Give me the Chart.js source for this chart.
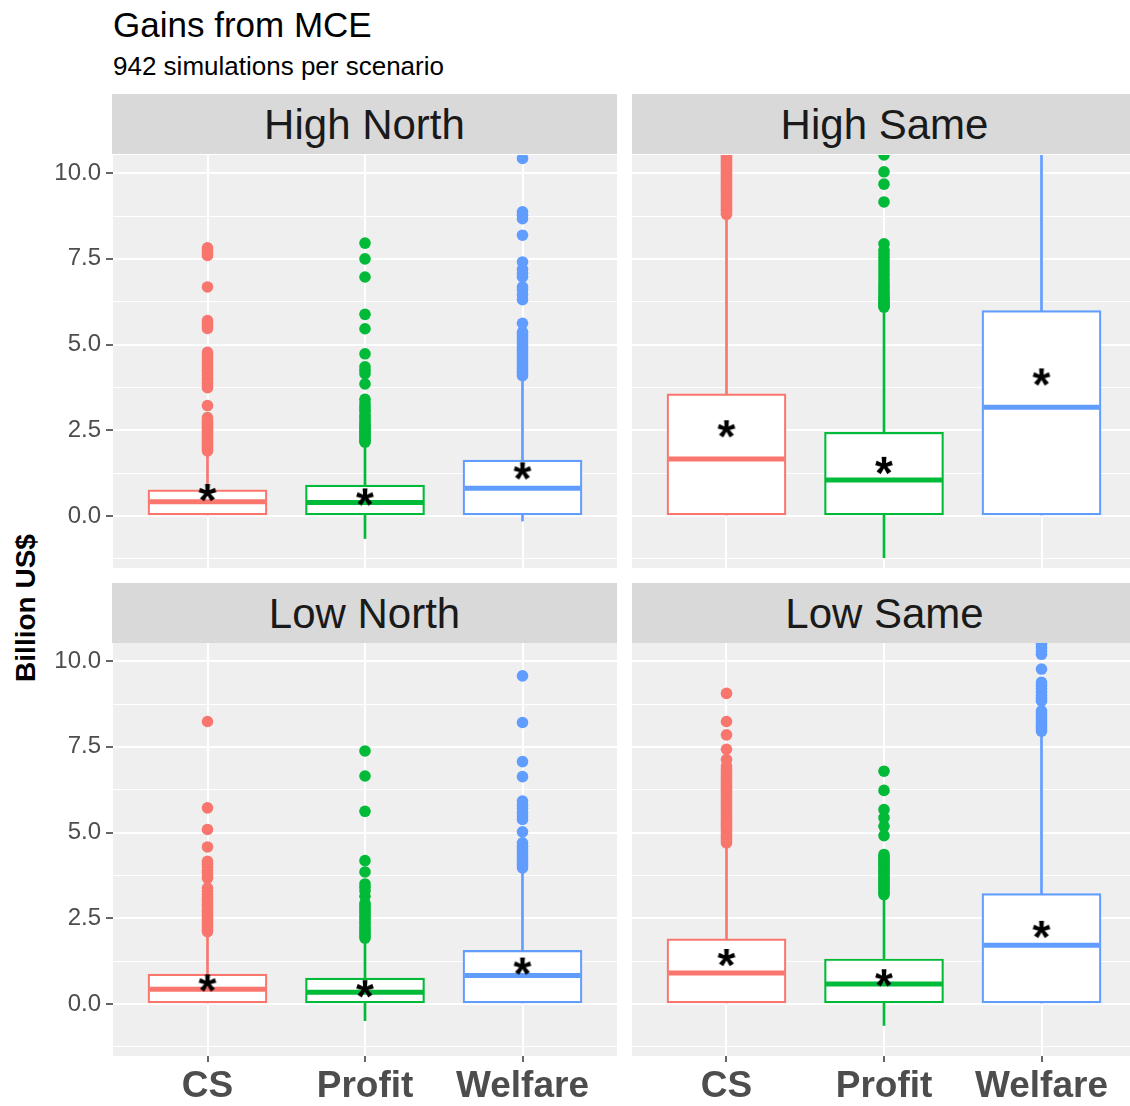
<!DOCTYPE html>
<html><head><meta charset="utf-8">
<script src="https://cdn.jsdelivr.net/npm/chart.js@4.4.1/dist/chart.umd.min.js"></script>
<style>
html,body{margin:0;padding:0;background:#fff;}
#wrap{position:relative;width:1130px;height:1106px;overflow:hidden;font-family:"Liberation Sans",Arial,sans-serif;}
.t{position:absolute;white-space:nowrap;line-height:1;}
.strip{position:absolute;background:#D9D9D9;color:#1A1A1A;font-size:42px;text-align:center;height:60px;line-height:62px;white-space:nowrap;}
canvas{position:absolute;}
</style></head><body><div id="wrap">
<div class="t" style="left:113px;top:7px;font-size:35px;color:#000">Gains from MCE</div>
<div class="t" style="left:113px;top:53px;font-size:26px;color:#000">942 simulations per scenario</div>
<div class="t" style="left:26px;top:608px;font-size:28px;font-weight:bold;color:#000;transform:translate(-50%,-50%) rotate(-90deg);">Billion US$</div>
</div>
<script>
// ---------- data ----------
const categories = ['CS', 'Profit', 'Welfare'];
const scenarios = ['High North', 'High Same', 'Low North', 'Low Same'];
const yMajorTicks = [0, 2.5, 5, 7.5, 10];
const yMinorTicks = [-1.25, 1.25, 3.75, 6.25, 8.75];

// High North  [CS, Profit, Welfare]
const highNorthLower  = [0.00, -0.66, -0.15];
const highNorthQ1     = [0.00, 0.00, 0.00];
const highNorthMedian = [0.41, 0.39, 0.81];
const highNorthQ3     = [0.76, 0.90, 1.63];
const highNorthUpper  = [1.84, 2.10, 4.04];
const highNorthMean   = [0.67, 0.54, 1.30];
const highNorthOutCS = [1.90,1.95,2.00,2.05,2.10,2.15,2.20,2.25,2.30,2.35,2.40,2.45,2.50,2.55,2.60,2.65,2.70,2.75,2.80,2.87,3.22,3.74,3.80,3.87,3.95,4.02,4.10,4.17,4.25,4.32,4.40,4.47,4.55,4.62,4.70,4.77,5.47,5.55,5.62,5.70,6.68,7.60,7.67,7.75,7.82];
const highNorthOutProfit = [2.15,2.20,2.25,2.30,2.35,2.40,2.45,2.50,2.55,2.60,2.65,2.72,2.80,2.88,2.95,3.05,3.13,3.20,3.30,3.40,3.85,4.15,4.25,4.35,4.73,5.46,5.88,6.97,7.50,7.96];
const highNorthOutWelfare = [4.09,4.15,4.22,4.30,4.37,4.45,4.52,4.60,4.68,4.75,4.83,4.90,4.98,5.05,5.13,5.20,5.28,5.36,5.62,6.31,6.45,6.60,6.68,6.97,7.08,7.20,7.41,8.19,8.67,8.77,8.87,10.43];

// High Same
const highSameLower  = [0.00, -1.22, 0.00];
const highSameQ1     = [0.00, 0.00, 0.00];
const highSameMedian = [1.66, 1.05, 3.17];
const highSameQ3     = [3.56, 2.44, 5.99];
const highSameUpper  = [8.77, 6.00, 14.9];
const highSameMean   = [2.53, 1.46, 4.04];
const highSameOutCS = [8.80,8.85,8.90,8.95,9.00,9.05,9.10,9.15,9.20,9.25,9.30,9.35,9.40,9.45,9.50,9.55,9.60,9.65,9.70,9.75,9.80,9.85,9.90,9.95,10.00,10.05,10.10,10.15,10.20,10.25,10.30,10.35,10.40,10.45,10.50,10.60];
const highSameOutProfit = [6.09,6.13,6.18,6.22,6.27,6.32,6.38,6.45,6.52,6.60,6.68,6.75,6.85,6.95,7.05,7.15,7.25,7.35,7.45,7.55,7.65,7.75,7.94,9.16,9.68,10.04,10.53];
const highSameOutWelfare = [];

// Low North
const lowNorthLower  = [0.00, -0.49, 0.00];
const lowNorthQ1     = [0.00, 0.00, 0.00];
const lowNorthMedian = [0.43, 0.34, 0.83];
const lowNorthQ3     = [0.87, 0.75, 1.56];
const lowNorthUpper  = [2.07, 1.82, 3.92];
const lowNorthMean   = [0.60, 0.43, 1.09];
const lowNorthOutCS = [2.11,2.17,2.23,2.30,2.37,2.44,2.50,2.57,2.64,2.70,2.77,2.84,2.90,2.97,3.04,3.10,3.20,3.28,3.38,3.67,3.75,3.83,3.90,4.00,4.08,4.16,4.58,5.09,5.72,8.24];
const lowNorthOutProfit = [1.92,1.98,2.05,2.12,2.20,2.27,2.35,2.42,2.50,2.57,2.65,2.72,2.80,2.87,2.94,3.14,3.30,3.40,3.50,3.85,4.18,5.62,6.65,7.38];
const lowNorthOutWelfare = [3.97,4.05,4.12,4.20,4.28,4.36,4.44,4.52,4.60,4.70,5.02,5.38,5.48,5.58,5.70,5.80,5.92,6.63,7.07,8.21,9.57];

// Low Same
const lowSameLower  = [0.00, -0.63, 0.00];
const lowSameQ1     = [0.00, 0.00, 0.00];
const lowSameMedian = [0.90, 0.58, 1.71];
const lowSameQ3     = [1.90, 1.31, 3.22];
const lowSameUpper  = [4.65, 3.14, 7.87];
const lowSameMean   = [1.34, 0.75, 2.16];
const lowSameOutCS = [4.70,4.76,4.82,4.88,4.94,5.00,5.06,5.12,5.18,5.24,5.30,5.36,5.42,5.48,5.54,5.60,5.66,5.72,5.78,5.84,5.90,5.96,6.02,6.08,6.14,6.20,6.26,6.32,6.38,6.44,6.50,6.56,6.62,6.68,6.74,6.80,6.87,6.94,7.13,7.43,7.85,8.24,9.06];
const lowSameOutProfit = [3.19,3.25,3.31,3.37,3.43,3.50,3.56,3.62,3.68,3.75,3.81,3.87,3.93,4.00,4.06,4.12,4.18,4.24,4.30,4.36,4.91,5.18,5.43,5.67,6.23,6.79];
const lowSameOutWelfare = [7.96,8.03,8.10,8.17,8.24,8.32,8.40,8.48,8.55,8.84,8.92,9.00,9.10,9.20,9.30,9.38,9.77,10.20,10.30,10.40,10.50];

// ---------- styling / layout ----------
const palette = ['#F8766D', '#00BA38', '#619CFF'];
const FONT = '"Liberation Sans", Arial, sans-serif';
Chart.defaults.font.family = FONT;

const panels = [
  {name: scenarios[0], lower: highNorthLower, q1: highNorthQ1, median: highNorthMedian, q3: highNorthQ3, upper: highNorthUpper, mean: highNorthMean,
   outs: [highNorthOutCS, highNorthOutProfit, highNorthOutWelfare]},
  {name: scenarios[1], lower: highSameLower, q1: highSameQ1, median: highSameMedian, q3: highSameQ3, upper: highSameUpper, mean: highSameMean,
   outs: [highSameOutCS, highSameOutProfit, highSameOutWelfare]},
  {name: scenarios[2], lower: lowNorthLower, q1: lowNorthQ1, median: lowNorthMedian, q3: lowNorthQ3, upper: lowNorthUpper, mean: lowNorthMean,
   outs: [lowNorthOutCS, lowNorthOutProfit, lowNorthOutWelfare]},
  {name: scenarios[3], lower: lowSameLower, q1: lowSameQ1, median: lowSameMedian, q3: lowSameQ3, upper: lowSameUpper, mean: lowSameMean,
   outs: [lowSameOutCS, lowSameOutProfit, lowSameOutWelfare]}
];
const boxes = [
  {left: 40, top: 155, w: 577, h: 413, axisW: 73, axisH: 0, showY: true, showX: false, stripL: 112, stripT: 94, stripW: 505},
  {left: 632, top: 155, w: 504, h: 413, axisW: 0, axisH: 0, showY: false, showX: false, stripL: 632, stripT: 94, stripW: 505},
  {left: 40, top: 643, w: 577, h: 463, axisW: 73, axisH: 50, showY: true, showX: true, stripL: 112, stripT: 583, stripW: 505},
  {left: 632, top: 643, w: 504, h: 463, axisW: 0, axisH: 50, showY: false, showX: true, stripL: 632, stripT: 583, stripW: 505}
];

function makeStar() {
  const c = document.createElement('canvas');
  c.width = 30; c.height = 30;
  const g = c.getContext('2d');
  g.fillStyle = '#000';
  g.font = 'bold 46px ' + FONT;
  g.textAlign = 'left'; g.textBaseline = 'alphabetic';
  const m = g.measureText('*');
  const w = m.actualBoundingBoxLeft + m.actualBoundingBoxRight;
  const h = m.actualBoundingBoxAscent + m.actualBoundingBoxDescent;
  g.fillText('*', 15 - w / 2 + m.actualBoundingBoxLeft, 15 - h / 2 + m.actualBoundingBoxAscent);
  return c;
}
const starImg = makeStar();

const panelBg = {
  id: 'panelBg',
  beforeDraw(chart) {
    const a = chart.chartArea, c = chart.ctx;
    c.save(); c.fillStyle = '#EFEFEF';
    c.fillRect(a.left, a.top, a.right - a.left, a.bottom - a.top);
    c.restore();
  }
};

const isMajor = v => yMajorTicks.indexOf(v) >= 0;
const yTickValues = yMinorTicks.concat(yMajorTicks).sort((a, b) => a - b);

const wrap = document.getElementById('wrap');
panels.forEach((p, k) => {
  const b = boxes[k];
  const strip = document.createElement('div');
  strip.className = 'strip';
  strip.style.left = b.stripL + 'px'; strip.style.top = b.stripT + 'px'; strip.style.width = b.stripW + 'px';
  strip.textContent = p.name;
  wrap.appendChild(strip);

  const cv = document.createElement('canvas');
  cv.width = b.w; cv.height = b.h;
  cv.style.left = b.left + 'px'; cv.style.top = b.top + 'px';
  cv.style.width = b.w + 'px'; cv.style.height = b.h + 'px';
  wrap.appendChild(cv);

  const xs = [1, 2, 3];
  const datasets = [
    {type: 'bar', order: 5, grouped: false, barThickness: 2, clip: 0,
     backgroundColor: palette, borderWidth: 0,
     data: xs.map((x, i) => ({x: x, y: [p.lower[i], p.upper[i]]}))},
    {type: 'bar', order: 4, grouped: false, barThickness: 119, clip: 0,
     backgroundColor: '#FFFFFF', borderColor: palette, borderWidth: 2.2, borderSkipped: false,
     data: xs.map((x, i) => ({x: x, y: [p.q1[i], p.q3[i]]}))},
    {type: 'scatter', order: 3, clip: 0, pointStyle: 'line', pointRadius: 58,
     pointBorderColor: palette, pointBorderWidth: 5, pointBackgroundColor: palette,
     data: xs.map((x, i) => ({x: x, y: p.median[i]}))}
  ];
  p.outs.forEach((arr, i) => datasets.push({
    type: 'scatter', order: 2, clip: 0, pointStyle: 'circle', pointRadius: 5.8,
    pointBackgroundColor: palette[i], pointBorderWidth: 0,
    data: arr.map(v => ({x: xs[i], y: v}))
  }));
  datasets.push({type: 'scatter', order: 1, clip: 0, pointStyle: starImg, pointRadius: 15,
    data: xs.map((x, i) => ({x: x, y: p.mean[i]}))});

  new Chart(cv, {
    type: 'bar',
    data: {datasets: datasets},
    options: {
      responsive: false, animation: false, devicePixelRatio: 1, events: [],
      layout: {padding: 0, autoPadding: false},
      plugins: {legend: {display: false}, tooltip: {enabled: false}},
      scales: {
        x: {
          type: 'linear', min: 0.4, max: 3.6, offset: false,
          afterBuildTicks: s => { s.ticks = xs.map(v => ({value: v})); },
          ticks: {display: b.showX, autoSkip: false, maxRotation: 0, padding: 4,
                  callback: v => categories[v - 1], color: '#4D4D4D',
                  font: {size: 37, weight: 'bold', family: FONT, lineHeight: 1.1}},
          grid: {offset: false, color: '#FFFFFF', lineWidth: 2, drawTicks: b.showX,
                 tickLength: 6, tickColor: '#333333', tickWidth: 1.5},
          border: {display: false},
          afterFit: s => { s.height = b.axisH; s.paddingLeft = 0; s.paddingRight = 0; s.paddingTop = 0; s.paddingBottom = 0; }
        },
        y: {
          type: 'linear', min: -1.52, max: 10.53,
          afterBuildTicks: s => { s.ticks = yTickValues.map(v => ({value: v})); },
          ticks: {display: b.showY, autoSkip: false, padding: 5, color: '#4D4D4D',
                  font: {size: 24, family: FONT},
                  callback: v => isMajor(v) ? v.toFixed(1) : ''},
          grid: {color: '#FFFFFF', drawTicks: b.showY, tickLength: 7, tickWidth: 1.5,
                 lineWidth: ctx => (ctx.tick && isMajor(ctx.tick.value)) ? 2 : 1,
                 tickColor: ctx => (ctx.tick && isMajor(ctx.tick.value)) ? '#333333' : 'rgba(0,0,0,0)'},
          border: {display: false},
          afterFit: s => { s.width = b.axisW; s.paddingLeft = 0; s.paddingRight = 0; s.paddingTop = 0; s.paddingBottom = 0; }
        }
      }
    },
    plugins: [panelBg]
  });
});
</script>
</body></html>
